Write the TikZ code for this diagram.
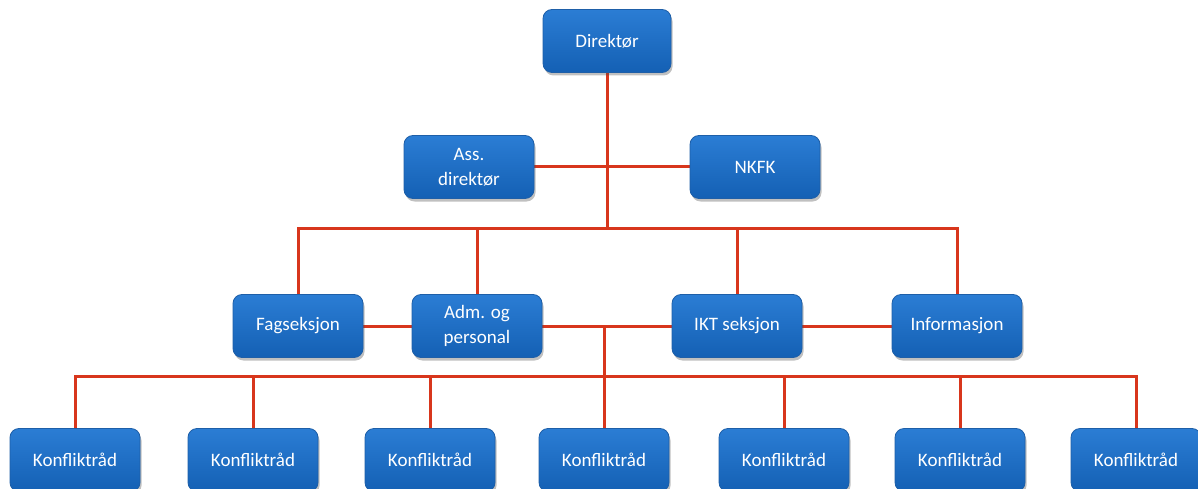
\documentclass[tikz,border=0pt]{standalone}
\usepackage{fontspec}
\setmainfont{Carlito}
\usetikzlibrary{shadows,backgrounds}
\definecolor{boxtop}{HTML}{2B7DD4}
\definecolor{boxbot}{HTML}{1460B4}
\definecolor{boxedge}{HTML}{1E5FA8}
\definecolor{linered}{HTML}{D8361C}
\tikzset{
  orgbox/.style={rectangle, rounded corners=9pt, minimum width=130pt, minimum height=63pt,
    inner sep=2pt, align=center, text=white, top color=boxtop, bottom color=boxbot,
    draw=boxedge, line width=0.8pt,
    font=\fontsize{19}{25}\selectfont,
    drop shadow={shadow xshift=1.5pt, shadow yshift=-3pt, opacity=0.35, fill=black!70}},
  conn/.style={draw=linered, line width=3pt},
}
\begin{document}
\begin{tikzpicture}[x=1pt,y=-1pt]
\useasboundingbox (0,0) rectangle (1198,489);
% nodes
\node[orgbox, minimum width=128pt] (dir) at (607,41) {Direktør};
\node[orgbox] (ass) at (469,167) {Ass.\\direktør};
\node[orgbox] (nkfk) at (755,167) {NKFK};
\node[orgbox] (fag) at (298,326) {Fagseksjon};
\node[orgbox] (adm) at (477,326) {Adm. og\\personal};
\node[orgbox] (ikt) at (737,326) {IKT seksjon};
\node[orgbox] (info) at (957,326) {Informasjon};
\node[orgbox] (k1) at (75,460) {Konfliktråd};
\node[orgbox] (k2) at (253,460) {Konfliktråd};
\node[orgbox] (k3) at (430,460) {Konfliktråd};
\node[orgbox] (k4) at (604,460) {Konfliktråd};
\node[orgbox] (k5) at (784,460) {Konfliktråd};
\node[orgbox] (k6) at (960,460) {Konfliktråd};
\node[orgbox] (k7) at (1136,460) {Konfliktråd};
% junction coordinates
\coordinate (bus1) at (607,228);
\coordinate (bus2) at (604,376);
\begin{scope}[on background layer]
\fill[white] (0,0) rectangle (1198,489);
\draw[conn] (dir.south) -- (bus1);
\draw[conn] (ass.east) -- (nkfk.west);
\draw[conn, line cap=rect] (fag.north |- bus1) -- (info.north |- bus1);
\foreach \n in {fag,adm,ikt,info}{
  \draw[conn] (\n.north |- bus1) -- (\n.north);
}
\draw[conn] (fag.east) -- (adm.west);
\draw[conn] (adm.east) -- (ikt.west);
\draw[conn] (ikt.east) -- (info.west);
\draw[conn] (k4.north |- adm.east) -- (k4.north);
\draw[conn, line cap=rect] (k1.north |- bus2) -- (k7.north |- bus2);
\foreach \n in {k1,k2,k3,k5,k6,k7}{
  \draw[conn] (\n.north |- bus2) -- (\n.north);
}
\end{scope}
\end{tikzpicture}
\end{document}
